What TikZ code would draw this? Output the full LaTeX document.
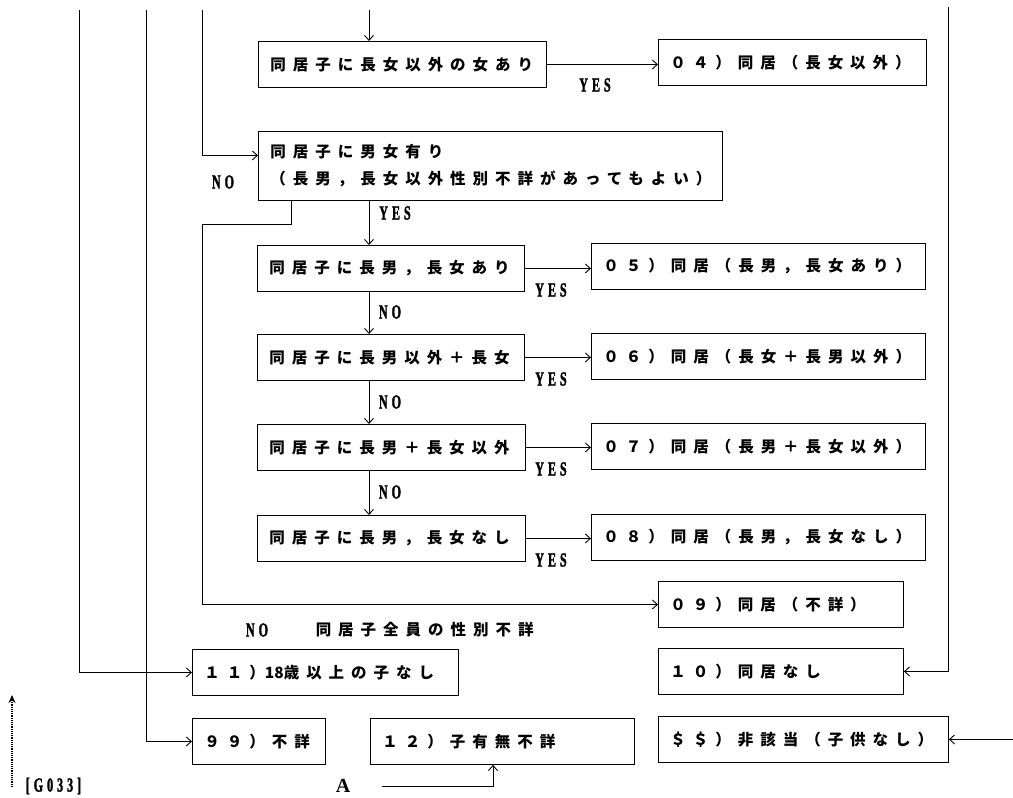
\documentclass[tikz,border=0pt]{standalone}
\usepackage{fontspec}
\newfontfamily\cjk[LetterSpace=45]{Noto Sans CJK JP}
\newfontfamily\cjkn{Noto Sans CJK JP}
\newfontfamily\latn[FakeStretch=0.6,LetterSpace=20,FakeBold=1.5]{Liberation Serif}
\newfontfamily\latw{Liberation Serif}
\usetikzlibrary{arrows.meta}

\begin{document}
\begin{tikzpicture}[x=1pt, y=-1pt, >={Straight Barb[length=5pt,width=9pt]}, line width=0.9pt,
    kbox/.style={draw, anchor=north west, minimum height=46pt, inner xsep=12pt, align=left,
      font=\fontsize{15.5}{27}\selectfont\cjk\bfseries},
    yn/.style={font=\fontsize{20}{20}\selectfont\latn\bfseries}]
\useasboundingbox (0,0) rectangle (1013,798);
\node[kbox, text width=264pt] (b1) at (258,41) {同居子に長女以外の女あり};
\node[kbox, text width=244pt] (r04) at (658,39) {０４）同居（長女以外）};
\node[kbox, text width=440pt, minimum height=69pt] (b2) at (258,131) {同居子に男女有り\\（長男，長女以外性別不詳があってもよい）};
\node[kbox, text width=243pt] (b3) at (257,245) {同居子に長男，長女あり};
\node[kbox, text width=310pt] (r05) at (591,243) {０５）同居（長男，長女あり）};
\node[kbox, text width=243pt] (b4) at (257,334) {同居子に長男以外＋長女};
\node[kbox, text width=310pt] (r06) at (591,333) {０６）同居（長女＋長男以外）};
\node[kbox, text width=244pt] (b5) at (257,424) {同居子に長男＋長女以外};
\node[kbox, text width=310pt] (r07) at (591,423) {０７）同居（長男＋長女以外）};
\node[kbox, text width=244pt] (b6) at (257,515) {同居子に長男，長女なし};
\node[kbox, text width=310pt] (r08) at (591,514) {０８）同居（長男，長女なし）};
\node[kbox, text width=221pt] (r09) at (658,581) {０９）同居（不詳）};
\node[kbox, text width=221pt] (r10) at (658,648) {１０）同居なし};
\node[kbox, text width=242pt] (r11) at (192,649) {１１）{\cjkn 18}歳以上の子なし};
\node[kbox, text width=109pt] (r99) at (192,718) {９９）不詳};
\node[kbox, text width=240pt] (r12) at (370,718) {１２）子有無不詳};
\node[kbox, text width=266pt] (rss) at (658,716) {＄＄）非該当（子供なし）};
\coordinate (t1) at (79,10);
\coordinate (t2) at (146,10);
\coordinate (t3) at (202,10);
\coordinate (t4) at (369,10);
\coordinate (t5) at (948,7);
\draw[->] (t1) |- (r11.west);
\draw[->] (t2) |- (r99.west);
\draw[->] (t3) |- ([yshift=10.5pt]b2.west);
\draw[->] (t4) -- (t4|-b1.north);
\draw[->] (b1.east) -- (b1.east-|r04.west);
\node[yn] (yes1) at (595,85) {YES};
\node[yn] (no1) at (223,182) {NO};
\draw[->] (t4|-b2.south) -- (t4|-b3.north);
\node[yn] (yes2) at (395,213) {YES};
\draw[->] (b3.east) -- (b3.east-|r05.west);
\draw[->] (b4.east) -- (b4.east-|r06.west);
\draw[->] (b5.east) -- (b5.east-|r07.west);
\draw[->] (b6.east) -- (b6.east-|r08.west);
\node[yn] (yes3) at (551,290) {YES};
\node[yn] (yes4) at (551,379) {YES};
\node[yn] (yes5) at (551,469) {YES};
\node[yn] (yes6) at (551,560) {YES};
\draw[->] (t4|-b3.south) -- (t4|-b4.north);
\draw[->] (t4|-b4.south) -- (t4|-b5.north);
\draw[->] (t4|-b5.south) -- (t4|-b6.north);
\node[yn] (no2) at (390,312) {NO};
\node[yn] (no3) at (390,402) {NO};
\node[yn] (no4) at (390,492) {NO};
\coordinate (c1) at (291,224);
\coordinate (c2) at (202,224);
\draw[->] (c1|-b2.south) -- (c1) -- (c2) |- (r09.west);
\node[yn] (no5) at (257,630) {NO};
\node[anchor=west, font=\fontsize{15.5}{27}\selectfont\cjk\bfseries] (unk) at (312,630) {同居子全員の性別不詳};
\draw[->] (t5) |- (r10.east);
\coordinate (e1) at (1013,0);
\draw[->] (e1|-rss.east) -- (rss.east);
\node[font=\fontsize{20}{20}\selectfont\latw\bfseries] (la) at (343,786) {A};
\coordinate (a1) at (382,786);
\coordinate (a2) at (493,786);
\draw[->] (a1) -- (a2) -- (a2|-r12.south);
\coordinate (g1) at (12,787);
\coordinate (g2) at (12,695);
\draw[densely dotted, line width=1.2pt, -{Stealth[length=8pt,width=7pt]}] (g1) -- (g2);
\node[yn, anchor=west] (code) at (22,786) {[G033]};
\end{tikzpicture}
\end{document}
